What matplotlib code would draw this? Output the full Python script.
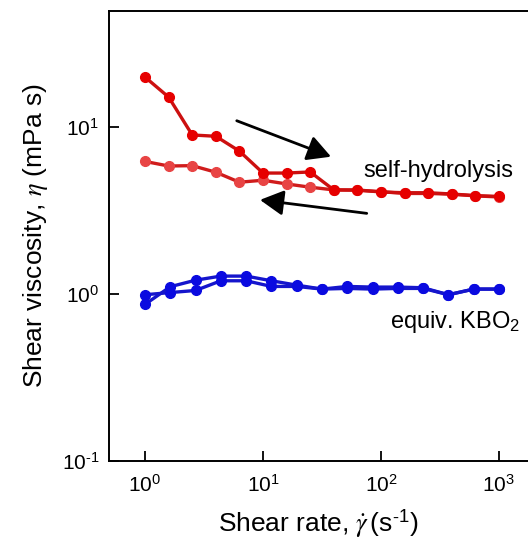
import numpy as np
import matplotlib
matplotlib.use('Agg')
import matplotlib.pyplot as plt
from matplotlib.ticker import FixedLocator, FixedFormatter, NullLocator

plt.rcParams['font.family'] = ['Liberation Sans', 'DejaVu Sans']
plt.rcParams['mathtext.fontset'] = 'stix'

# shear rates (s^-1)
rate_red = [1.0, 1.585, 2.512, 3.981, 6.31, 10.0, 15.85, 25.12, 39.81,
            63.1, 100.0, 158.5, 251.2, 398.1, 631.0, 1000.0]
rate_blue = [1.0, 1.638, 2.683, 4.394, 7.197, 11.79, 19.31, 31.62, 51.79,
             84.83, 138.9, 227.6, 372.8, 610.5, 1000.0]

# self-hydrolysis, ramp up and ramp down (mPa s)
visc_up = [19.9, 15.1, 8.96, 8.8, 7.17, 5.3, 5.3, 5.38, 4.2,
           4.2, 4.08, 4.04, 4.04, 3.97, 3.88, 3.84]
visc_down = [6.22, 5.84, 5.87, 5.36, 4.67, 4.80, 4.56, 4.36, 4.2,
             4.18, 4.1, 4.0, 4.0, 3.96, 3.87, 3.81]

# equiv. KBO2, two sweeps (mPa s)
kbo2_a = [0.99, 1.02, 1.05, 1.2, 1.2, 1.11, 1.11, 1.07, 1.08,
          1.07, 1.08, 1.08, 0.99, 1.07, 1.07]
kbo2_b = [0.867, 1.106, 1.21, 1.28, 1.28, 1.2, 1.13, 1.07, 1.11,
          1.10, 1.10, 1.09, 0.99, 1.07, 1.07]

xticks = [1, 10, 100, 1000]
xticklabels = [r'10$^{\mathdefault{0}}$', r'10$^{\mathdefault{1}}$',
               r'10$^{\mathdefault{2}}$', r'10$^{\mathdefault{3}}$']
yticks = [0.1, 1, 10]
yticklabels = [r'10$^{\mathdefault{\text{-}1}}$', r'10$^{\mathdefault{0}}$',
               r'10$^{\mathdefault{1}}$']

fig = plt.figure(figsize=(5.28, 5.41), dpi=100)
ax = fig.add_axes([109 / 528, 80 / 541, 1 - 109 / 528, 450 / 541])

ax.plot(rate_red, visc_down, '-o', color='#d01c1c', mfc='#e84444', mec='#e84444',
        lw=2.4, ms=7)
ax.plot(rate_red, visc_up, '-o', color='#cc1010', mfc='#e60000', mec='#e60000',
        lw=2.4, ms=7)
ax.plot(rate_blue, kbo2_a, '-o', color='#1515cc', mfc='#0a0ae0', mec='#0a0ae0',
        lw=2.4, ms=7)
ax.plot(rate_blue, kbo2_b, '-o', color='#1515cc', mfc='#0a0ae0', mec='#0a0ae0',
        lw=2.4, ms=7)

ax.set_xscale('log')
ax.set_yscale('log')
ax.set_xlim(0.495, 1762)
ax.set_ylim(0.1, 49.5)

ax.xaxis.set_major_locator(FixedLocator(xticks))
ax.xaxis.set_major_formatter(FixedFormatter(xticklabels))
ax.yaxis.set_major_locator(FixedLocator(yticks))
ax.yaxis.set_major_formatter(FixedFormatter(yticklabels))
ax.xaxis.set_minor_locator(NullLocator())
ax.yaxis.set_minor_locator(NullLocator())
ax.tick_params(direction='in', length=7, width=1.3, labelsize=15)
ax.tick_params(axis='x', pad=10)
ax.tick_params(axis='y', pad=7)
for s in ['left', 'bottom', 'top']:
    ax.spines[s].set_linewidth(1.4)
ax.spines['right'].set_visible(False)

ax.set_xlabel(r'Shear rate, $\dot{\gamma}\,$(s$^{\mathdefault{\text{-}1}}$)', fontsize=19, labelpad=8)
ax.set_ylabel(r'Shear viscosity, $\eta$ (mPa s)', fontsize=19, labelpad=8)

arrow_style = dict(arrowstyle='-|>,head_length=0.65,head_width=0.35',
                   mutation_scale=22, lw=2, color='black', shrinkA=0, shrinkB=0)
ax.annotate('', xy=(37.7, 6.64), xytext=(5.99, 10.9), arrowprops=arrow_style)
ax.annotate('', xy=(9.43, 3.66), xytext=(75.7, 3.04), arrowprops=arrow_style)

ax.text(1314, 5.02, 'self-hydrolysis', fontsize=17, ha='right', va='baseline')
ax.text(1507, 0.625, r'equiv. KBO$_{\mathdefault{2}}$', fontsize=17, ha='right', va='baseline')

fig.savefig('out.png', dpi=100)
